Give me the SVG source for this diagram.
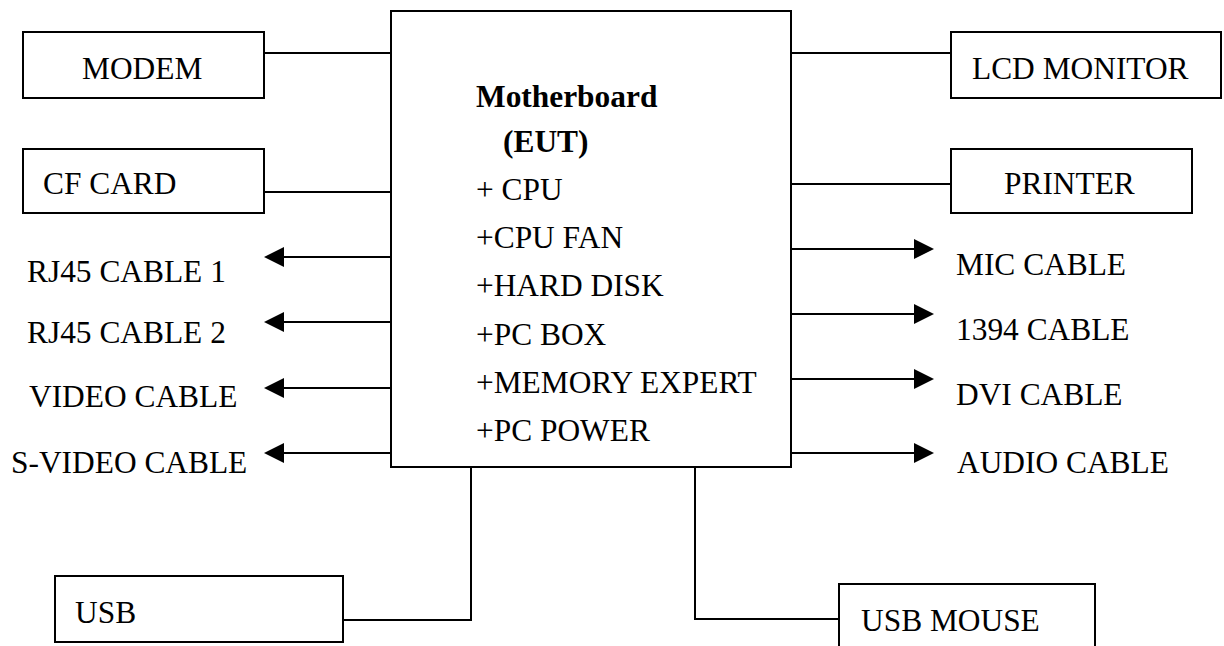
<svg xmlns="http://www.w3.org/2000/svg" width="1224" height="646" viewBox="0 0 1224 646">
<style>
.box{fill:#fff;stroke:#000;stroke-width:2}
.ln{fill:none;stroke:#000;stroke-width:2}
.ah{fill:#000;stroke:none}
text{font-family:"Liberation Serif","Times New Roman",serif;font-size:31.4px;fill:#000}
.b{font-weight:bold}
</style>
<rect width="1224" height="646" fill="#fff"/>
<g id="connectors">
<path class="ln" d="M264 53H391M264 192H391M791 53H951M791 184H951"/>
<path class="ln" d="M284 257H391M284 322H391M284 388H391M284 453H391"/>
<polygon class="ah" points="264,257 284,247 284,267"/>
<polygon class="ah" points="264,322 284,312 284,332"/>
<polygon class="ah" points="264,388 284,378 284,398"/>
<polygon class="ah" points="264,453 284,443 284,463"/>
<path class="ln" d="M791 249H914M791 314H914M791 379H914M791 453H914"/>
<polygon class="ah" points="934,249 914,239 914,259"/>
<polygon class="ah" points="934,314 914,304 914,324"/>
<polygon class="ah" points="934,379 914,369 914,389"/>
<polygon class="ah" points="934,453 914,443 914,463"/>
<path class="ln" d="M343 620H471V467M839 619H695V467"/>
</g>
<g id="motherboard">
<rect class="box" x="391" y="11" width="400" height="456"/>
<text class="b" x="476" y="107">Motherboard</text>
<text class="b" x="503" y="152">(EUT)</text>
<text x="476" y="200">+ CPU</text>
<text x="476" y="248">+CPU FAN</text>
<text x="476" y="296">+HARD DISK</text>
<text x="476" y="345">+PC BOX</text>
<text x="476" y="393">+MEMORY EXPERT</text>
<text x="476" y="441">+PC POWER</text>
</g>
<g id="modem"><rect class="box" x="23" y="32" width="241" height="66"/><text x="82" y="79">MODEM</text></g>
<g id="cfcard"><rect class="box" x="23" y="149" width="241" height="64"/><text x="43" y="194">CF CARD</text></g>
<g id="lcd"><rect class="box" x="951" y="32" width="270" height="66"/><text x="972" y="79">LCD MONITOR</text></g>
<g id="printer"><rect class="box" x="951" y="149" width="241" height="64"/><text x="1004" y="194">PRINTER</text></g>
<g id="rj45-1"><text x="27" y="282">RJ45 CABLE 1</text></g>
<g id="rj45-2"><text x="27" y="343">RJ45 CABLE 2</text></g>
<g id="video"><text x="29" y="407">VIDEO CABLE</text></g>
<g id="svideo"><text x="11" y="473">S-VIDEO CABLE</text></g>
<g id="mic"><text x="956" y="275">MIC CABLE</text></g>
<g id="c1394"><text x="956" y="340">1394 CABLE</text></g>
<g id="dvi"><text x="956" y="405">DVI CABLE</text></g>
<g id="audio"><text x="957" y="473">AUDIO CABLE</text></g>
<g id="usb"><rect class="box" x="55" y="576" width="288" height="66"/><text x="75" y="623">USB</text></g>
<g id="usbmouse"><rect class="box" x="839" y="584" width="256" height="70"/><text x="861" y="631">USB MOUSE</text></g>
</svg>
